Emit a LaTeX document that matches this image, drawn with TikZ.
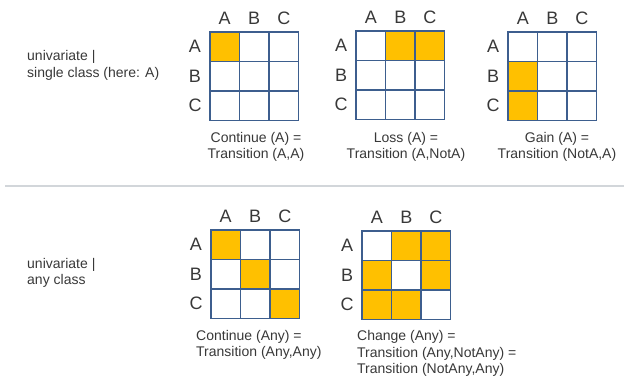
\documentclass[tikz,border=0pt]{standalone}
\usepackage{fontspec}
\setmainfont{Liberation Sans}
\definecolor{gridblue}{HTML}{3D5E8E}
\definecolor{gold}{HTML}{FFC000}
\definecolor{txtgray}{HTML}{383838}
\definecolor{sepgray}{HTML}{D2D6DA}
\tikzset{
  cell/.style={draw=gridblue, line width=1.7pt, fill=white, minimum size=29.5pt,
    inner sep=0pt, outer sep=0pt, anchor=north west},
  hit/.style={cell, fill=gold},
  lab/.style={font=\fontsize{18}{18}\selectfont, text=txtgray, inner sep=0pt},
  captext/.style={font=\fontsize{14}{16.5}\selectfont, text=txtgray, inner sep=0pt},
}
% \tgrid{name}{x}{y}{highlighted row/col pairs}
\newcommand{\tgrid}[4]{%
  \foreach \ri in {1,2,3}{
    \foreach \ci in {1,2,3}{
      \node[cell] (#1-\ri-\ci) at ({#2+(\ci-1)*29.5},{#3+(\ri-1)*29.5}) {};
    }
  }
  \foreach \ri/\ci in {#4}{
    \node[hit] (#1-h-\ri-\ci) at ({#2+(\ci-1)*29.5},{#3+(\ri-1)*29.5}) {};
  }
  \foreach \l [count=\k] in {A,B,C}{
    \node[lab] (#1-col-\k) at ({#2+14.75+(\k-1)*29.5},{#3-14}) {\l};
    \node[lab] (#1-row-\k) at ({#2-15},{#3+14.75+(\k-1)*29.5}) {\l};
  }
}
\begin{document}
\begin{tikzpicture}[x=1pt, y=-1pt]
\useasboundingbox (0,0) rectangle (624,382);

% single class
\node[captext, anchor=west, align=left] (single) at (27,65.5) {univariate |\\single class (here: A)};
\tgrid{cont}{210}{32}{1/1}
\tgrid{loss}{356}{31}{1/2,1/3}
\tgrid{gain}{508}{32}{2/1,3/1}
\node[captext, align=center] (capcont) at (256,147) {Continue (A) =\\Transition (A,A)};
\node[captext, align=center] (caploss) at (406,147) {Loss (A) =\\Transition (A,NotA)};
\node[captext, align=center] (capgain) at (557,147) {Gain (A) =\\Transition (NotA,A)};

% separator
\coordinate (sepL) at (5,186);
\coordinate (sepR) at (624,186);
\draw[sepgray, line width=2pt] (sepL) -- (sepR);

% any class
\node[captext, anchor=west, align=left] (anyc) at (27,273) {univariate |\\any class};
\tgrid{contany}{211}{230}{1/1,2/2,3/3}
\tgrid{change}{362}{231}{1/2,1/3,2/1,2/3,3/1,3/2}
\node[captext, anchor=west, align=left] (capcontany) at (196,345) {Continue (Any) =\\Transition (Any,Any)};
\node[captext, anchor=west, align=left] (capchange) at (357,353.5) {Change (Any) =\\Transition (Any,NotAny) =\\Transition (NotAny,Any)};
\end{tikzpicture}
\end{document}
